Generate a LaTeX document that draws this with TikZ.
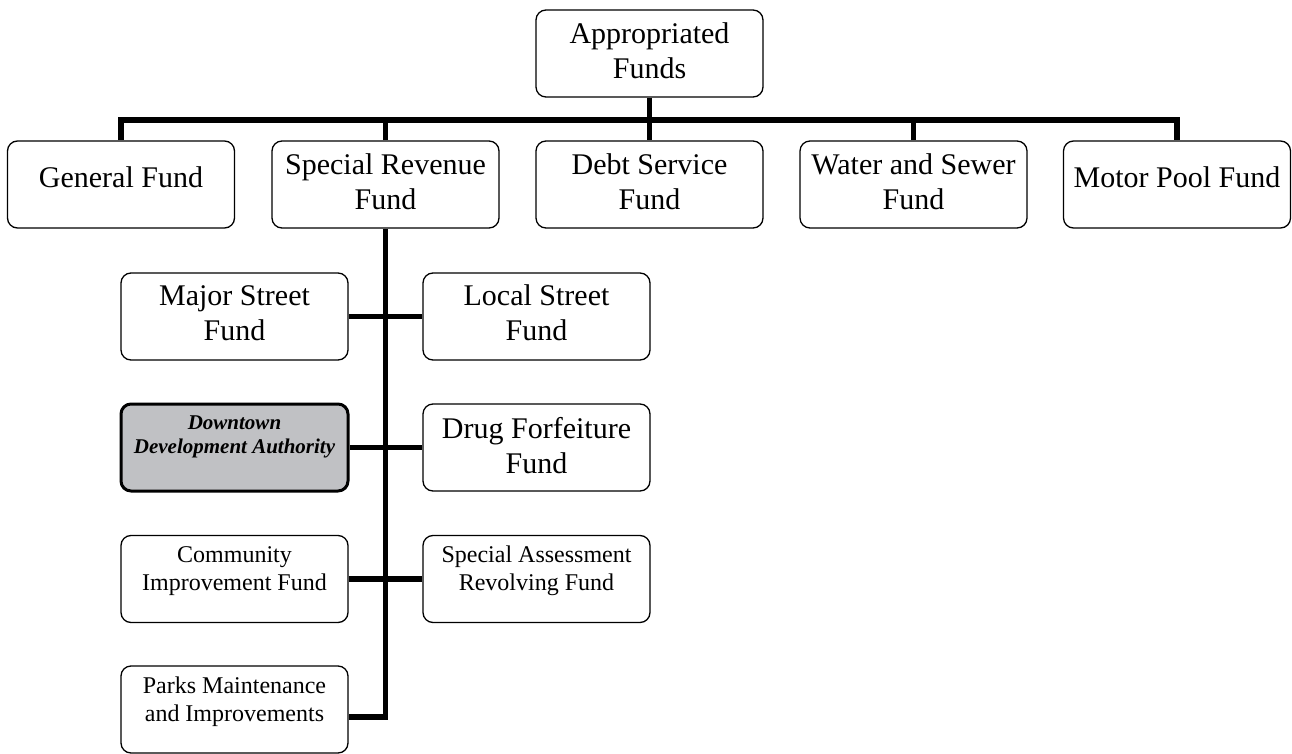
\documentclass[tikz,border=0pt]{standalone}
\usepackage{fontspec}
\setmainfont{Liberation Serif}
\definecolor{ddagray}{RGB}{192,193,196}
\begin{document}
\begin{tikzpicture}[x=1pt,y=-1pt,
  box/.style={draw=black, line width=1.3pt, rounded corners=10pt, minimum width=227pt, minimum height=87pt, inner sep=0pt, fill=white},
  ddabox/.style={box, line width=3pt, fill=ddagray},
  big/.style={align=center, inner sep=0pt, font=\fontsize{30}{35}\selectfont},
  mid/.style={align=center, inner sep=0pt, font=\fontsize{24}{28}\selectfont},
  ddatext/.style={align=center, inner sep=0pt, font=\fontsize{21}{24}\selectfont\bfseries\itshape},
  conn/.style={line width=5.5pt, line cap=butt, line join=miter}
]
\useasboundingbox (0,0) rectangle (1292,754);
% boxes
\node[box] (ap) at (649.5,53.5) {};
\node[box] (gf) at (121,184.5) {};
\node[box] (sr) at (385.5,184.5) {};
\node[box] (ds) at (649.5,184.5) {};
\node[box] (ws) at (913.5,184.5) {};
\node[box] (mp) at (1177,184.5) {};
\node[box] (ms) at (234.5,316.5) {};
\node[box] (ls) at (536.5,316.5) {};
\node[ddabox] (dda) at (234.5,447.5) {};
\node[box] (df) at (536.5,447.5) {};
\node[box] (ci) at (234.5,579) {};
\node[box] (sa) at (536.5,579) {};
\node[box] (pk) at (234.5,709.5) {};
% texts
\node[big] (ap-t) at (649.5,54.5) {Appropriated\strut\\Funds\strut};
\node[big] (gf-t) at (121,181) {General Fund\strut};
\node[big] (sr-t) at (385.5,185) {Special Revenue\strut\\Fund\strut};
\node[big] (ds-t) at (649.5,185) {Debt Service\strut\\Fund\strut};
\node[big] (ws-t) at (913.5,185) {Water and Sewer\strut\\Fund\strut};
\node[big] (mp-t) at (1177,181) {Motor Pool Fund\strut};
\node[big] (ms-t) at (234.5,316) {Major Street\strut\\Fund\strut};
\node[big] (ls-t) at (536.5,316) {Local Street\strut\\Fund\strut};
\node[ddatext] (dda-t) at (234.5,436.7) {Downtown\strut\\Development Authority\strut};
\node[big] (df-t) at (536.5,448.5) {Drug Forfeiture\strut\\Fund\strut};
\node[mid] (ci-t) at (234.5,570.4) {Community\strut\\Improvement Fund\strut};
\node[mid] (sa-t) at (536.5,570.4) {Special Assessment\strut\\Revolving Fund\strut};
\node[mid] (pk-t) at (234.5,702) {Parks Maintenance\strut\\and Improvements\strut};
% bus
\coordinate (bus) at (649.5,120);
\draw[conn] (ap.south) -- (ds.north);
\draw[conn] (gf.north) -- (gf.north |- bus) -| (mp.north);
\draw[conn] (sr.north) -- (sr.north |- bus);
\draw[conn] (ws.north) -- (ws.north |- bus);
% trunk
\draw[conn] (sr.south) |- ([yshift=-7.5pt]pk.east);
\draw[conn] (ms.east) -- (ls.west);
\draw[conn] (dda.east) -- (df.west);
\draw[conn] (ci.east) -- (sa.west);
\end{tikzpicture}
\end{document}
